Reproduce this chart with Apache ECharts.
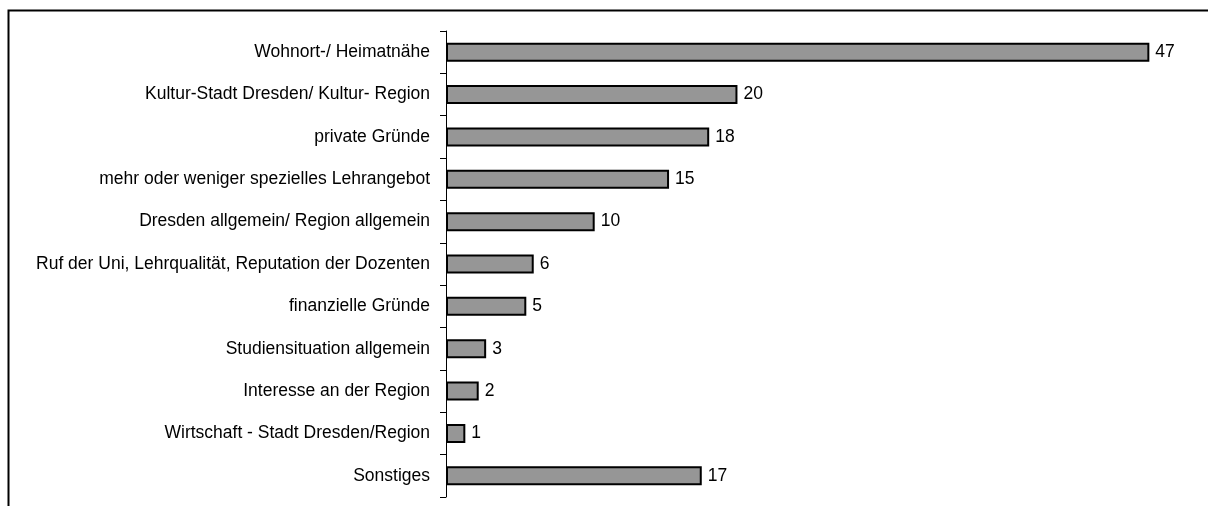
<!DOCTYPE html>
<html><head><meta charset="utf-8">
<script src="https://cdn.jsdelivr.net/npm/echarts@6/dist/echarts.min.js"></script>
<style>html,body{margin:0;padding:0;background:#fff}#c{width:1208px;height:506px}</style>
</head><body><div id="c"></div>
<script>
const categories = [
  "Wohnort-/ Heimatnähe",
  "Kultur-Stadt Dresden/ Kultur- Region",
  "private Gründe",
  "mehr oder weniger spezielles Lehrangebot",
  "Dresden allgemein/ Region allgemein",
  "Ruf der Uni, Lehrqualität, Reputation der Dozenten",
  "finanzielle Gründe",
  "Studiensituation allgemein",
  "Interesse an der Region",
  "Wirtschaft - Stadt Dresden/Region",
  "Sonstiges"
];
// bar lengths (percent); labels show them rounded
const values = [47.3, 19.6, 17.7, 15.0, 10.0, 5.9, 5.4, 2.7, 2.2, 1.3, 17.2];

const FONT = '"Liberation Sans", Arial, sans-serif';
const chart = echarts.init(document.getElementById('c'), null, {renderer: 'canvas'});
chart.setOption({
  animation: false,
  graphic: [{
    type: 'rect', shape: {x: 8.5, y: 10.5, width: 1300, height: 600},
    style: {fill: 'none', stroke: '#000', lineWidth: 2}, z: -1
  }],
  grid: {left: 446, top: 31, width: 743.5, height: 466, containLabel: false},
  xAxis: {
    type: 'value', min: 0, max: 50, show: false
  },
  yAxis: {
    type: 'category', data: categories, inverse: true,
    axisLine: {show: true, lineStyle: {color: '#000', width: 1}},
    axisTick: {show: true, length: 6, lineStyle: {color: '#000'}},
    axisLabel: {color: '#000', fontSize: 17.5, fontFamily: FONT, margin: 16}
  },
  series: [{
    type: 'bar', data: values, barWidth: 19,
    itemStyle: {color: '#969696', borderColor: '#000', borderWidth: 2},
    label: {show: true, position: 'right', distance: 6, color: '#000', fontSize: 17.5, fontFamily: FONT,
            formatter: p => String(Math.round(p.value))}
  }]
});
</script></body></html>
